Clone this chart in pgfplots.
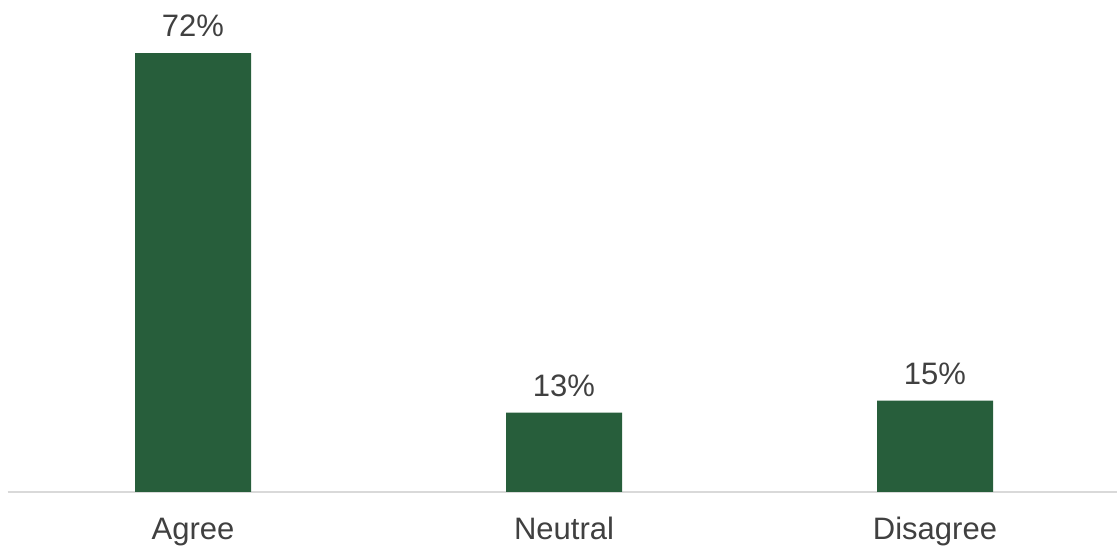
\documentclass[border=0pt]{standalone}
\usepackage{pgfplots}
\pgfplotsset{compat=1.18}
\usepackage{fontspec}
\setmainfont{Liberation Sans}
\definecolor{barg}{HTML}{275E3B}
\definecolor{txt}{HTML}{404040}
\definecolor{axl}{HTML}{D9D9D9}
\begin{document}
\begin{tikzpicture}
\begin{axis}[
  name=ax,
  scale only axis,
  width=556.5pt, height=246pt,
  xmin=-0.5, xmax=2.5,
  ymin=0, ymax=80.7,
  axis y line=none,
  axis x line*=bottom,
  x axis line style={draw=axl, line width=1pt, -},
  xtick=data,
  xticklabels={Agree,Neutral,Disagree},
  major tick length=0pt,
  /pgf/number format/assume math mode=true,
  xticklabel style={font=\fontsize{15.5}{18}\selectfont, text=txt, text height=11pt, text depth=3pt, yshift=-9pt},
  ybar,
  bar width=58pt,
  nodes near coords={\pgfmathprintnumber{\pgfplotspointmeta}\%},
  nodes near coords style={font=\fontsize{15.5}{18}\selectfont, text=txt, yshift=4.5pt},
  clip=false,
]
\addplot[fill=barg, draw=none] coordinates {(0,72) (1,13) (2,15)};
\end{axis}
\pgfresetboundingbox
\useasboundingbox ([xshift=-3.75pt,yshift=-29pt]ax.south west) rectangle ([xshift=-1.75pt]ax.north east);
\end{tikzpicture}
\end{document}
